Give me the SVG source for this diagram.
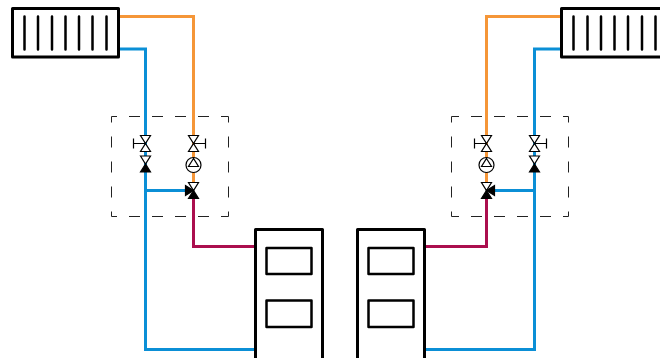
<svg xmlns="http://www.w3.org/2000/svg" width="660" height="358" viewBox="0 0 660 358">
<style>
.pipe{fill:none;stroke-width:3;stroke-linejoin:miter}
.hot{stroke:#f59638}.cold{stroke:#0b8fd6}.ret{stroke:#ab0f4e}
.box{fill:#fff;stroke:#000;stroke-width:3;stroke-linejoin:round}
.win{fill:#fff;stroke:#000;stroke-width:2.500;stroke-linejoin:round}
.fin{fill:none;stroke:#000;stroke-width:2.500;stroke-linecap:round}
.dh{fill:none;stroke:#222;stroke-width:1;stroke-dasharray:11 12;stroke-dashoffset:5.500}
.dv{fill:none;stroke:#222;stroke-width:1;stroke-dasharray:11 14;stroke-dashoffset:5}
.v{fill:#fff;stroke:#000;stroke-width:1.200;stroke-linejoin:miter}
.f{fill:#000;stroke:#000;stroke-width:1.200}
</style>
<defs>
<g id="rad">
<rect class="box" x="12.500" y="8.500" width="106" height="48.500"/>
<path class="fin" d="M24.500 16.500V49.500M38 16.500V49.500M52 16.500V49.500M65.500 16.500V49.500M79 16.500V49.500M92.500 16.500V49.500M106.500 16.500V49.500"/>
</g>
<g id="boiler">
<path class="box" d="M255.500 360V229.500H322.500V360"/>
<rect class="win" x="266.500" y="248" width="45" height="26"/>
<rect class="win" x="266.500" y="300.500" width="45" height="26.500"/>
</g>
<g id="wires">
<path class="pipe hot" d="M118 16.500H193.500V183"/>
<path class="pipe cold" d="M118 49H145.500V349.500H256"/>
<path class="pipe cold" d="M145.500 190.500H186"/>
<path class="pipe ret" d="M193.500 198V246.500H256"/>
</g>
<g id="frame">
<path class="dh" d="M111.500 116.500H228.500M111.500 216.500H228.500"/>
<path class="dv" d="M111.500 116.500V216.500M228.500 116.500V216.500"/>
</g>
<g id="valve-a">
<path class="v" d="M140.500 135.500H150.500L140.500 151.500H150.500Z"/>
<path class="v" d="M133.500 138.500V148.500M133.500 143.500H145.500"/>
</g>
<g id="check">
<path class="v" d="M140.500 156L145.500 164L150.500 156Z"/>
<path class="f" d="M145.500 164L140.500 172H150.500Z"/>
</g>
<g id="valve-b">
<path class="v" d="M188.500 135.500H198.500L188.500 151.500H198.500Z"/>
<path class="v" d="M205.500 138.500V148.500M205.500 143.500H193.500"/>
</g>
<g id="pump">
<circle class="v" cx="193.500" cy="165" r="7.500"/>
<path class="v" d="M193.500 158.500L188.500 166.500H198.500Z"/>
</g>
<g id="mix">
<path class="v" d="M188.500 182.500H198.500L193.500 190.500Z"/>
<path class="f" d="M193.500 190.500L188.500 198.500H198.500Z"/>
<path class="f" d="M193.500 190.500L185.500 185.500V195.500Z"/>
</g>
</defs>
<g id="connectors-left"><use href="#wires"/></g>
<g id="connectors-right"><use href="#wires" transform="matrix(-1 0 0 1 680 0)"/></g>
<g id="radiator-left"><use href="#rad"/></g>
<g id="radiator-right"><use href="#rad" transform="matrix(-1 0 0 1 680 0)"/></g>
<g id="group-left"><use href="#frame"/></g>
<g id="group-right"><use href="#frame" transform="matrix(-1 0 0 1 680 0)"/></g>
<g id="valve-left-1"><use href="#valve-a"/></g>
<g id="check-left"><use href="#check"/></g>
<g id="valve-left-2"><use href="#valve-b"/></g>
<g id="pump-left"><use href="#pump"/></g>
<g id="mixer-left"><use href="#mix"/></g>
<g id="valve-right-1"><use href="#valve-a" transform="matrix(-1 0 0 1 680 0)"/></g>
<g id="check-right"><use href="#check" transform="matrix(-1 0 0 1 680 0)"/></g>
<g id="valve-right-2"><use href="#valve-b" transform="matrix(-1 0 0 1 680 0)"/></g>
<g id="pump-right"><use href="#pump" transform="matrix(-1 0 0 1 680 0)"/></g>
<g id="mixer-right"><use href="#mix" transform="matrix(-1 0 0 1 680 0)"/></g>
<g id="boiler-left"><use href="#boiler"/></g>
<g id="boiler-right"><use href="#boiler" transform="matrix(-1 0 0 1 680 0)"/></g>
</svg>
